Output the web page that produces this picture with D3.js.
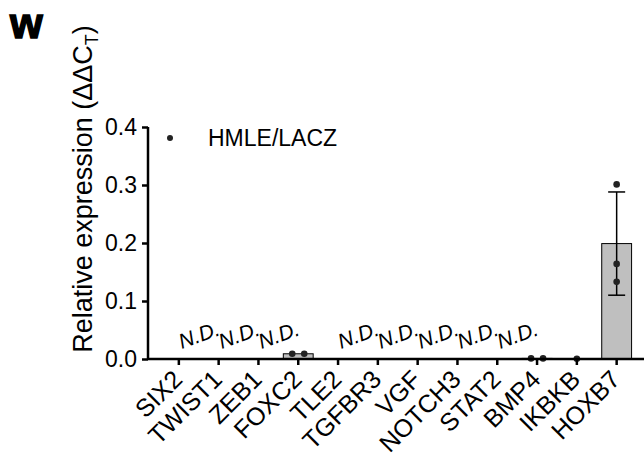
<!DOCTYPE html>
<html lang="en">
<head>
  <meta charset="UTF-8">
  <title>Relative expression</title>
  <script src="https://d3js.org/d3.v7.min.js"></script>
  <style>
    body { margin: 0; background: #fff; }
    text { font-family: "Liberation Sans", Arial, sans-serif; fill: #000; }
  </style>
</head>
<body>
  <svg id="chart" width="644" height="459"></svg>
  <script>
    // genes on the x axis
    const genes = ['SIX2', 'TWIST1', 'ZEB1', 'FOXC2', 'TLE2', 'TGFBR3', 'VGF', 'NOTCH3', 'STAT2', 'BMP4', 'IKBKB', 'HOXB7'];
    // genes that were not detected
    const notDetected = ['SIX2', 'TWIST1', 'ZEB1', 'TLE2', 'TGFBR3', 'VGF', 'NOTCH3', 'STAT2'];
    // bar height (mean) and error (SD) for detected genes
    const meanValues = { FOXC2: 0.009, BMP4: 0.001, IKBKB: 0.0005, HOXB7: 0.199 };
    const sdValues = { HOXB7: 0.089 };
    // individual replicate points
    const replicates = { FOXC2: [0.009, 0.009], BMP4: [0.001, 0.001], IKBKB: [0.0005], HOXB7: [0.301, 0.164, 0.133] };
    const yTicks = [0, 0.1, 0.2, 0.3, 0.4];

    const svg = d3.select('#chart');
    const margins = { top: 127, bottom: 100, left: 148 };
    const y0 = 359;
    const font = '"Liberation Sans", Arial, sans-serif';

    const xScale = d3.scaleBand()
      .domain(genes)
      .range([148, 647.5])
      .paddingInner(0.25)
      .paddingOuter(0.4);

    const yScale = d3.scaleLinear()
      .domain([0, 0.4])
      .range([y0, margins.top]);

    // panel letter
    svg.append('text')
      .attr('x', 10)
      .attr('y', 38)
      .attr('font-size', '42px')
      .attr('font-weight', 'bold')
      .attr('stroke', '#000')
      .attr('stroke-width', 1.5)
      .text('w');

    // y axis
    const leftAxis = d3.axisLeft(yScale)
      .tickValues(yTicks)
      .tickFormat(d3.format('.1f'))
      .tickSize(6)
      .tickPadding(5);
    const yAxisG = svg.append('g')
      .attr('transform', `translate(${margins.left},0)`)
      .call(leftAxis);
    yAxisG.select('.domain').attr('stroke-width', 2.5).attr('d', `M0,${y0}V${margins.top}`);
    yAxisG.selectAll('.tick line').attr('stroke-width', 2.5);
    yAxisG.selectAll('.tick text')
      .attr('font-size', '23px')
      .attr('font-family', font)
      .attr('fill', '#000');

    // y axis title
    const yTitle = svg.append('text')
      .attr('transform', 'translate(92,189) rotate(-90)')
      .attr('text-anchor', 'middle')
      .attr('font-size', '27px');
    yTitle.append('tspan').text('Relative expression (\u0394\u0394C');
    yTitle.append('tspan').attr('font-size', '18px').attr('dy', 6).text('T');
    yTitle.append('tspan').attr('dy', -6).text(')');

    // bars
    const detected = genes.filter(g => meanValues[g] !== undefined);
    svg.selectAll('rect.bar').data(detected)
      .join('rect').attr('class', 'bar')
      .attr('x', d => xScale(d))
      .attr('y', d => yScale(meanValues[d]))
      .attr('width', xScale.bandwidth())
      .attr('height', d => yScale(0) - yScale(meanValues[d]))
      .attr('fill', '#bfbfbf')
      .attr('stroke', '#000')
      .attr('stroke-width', 1);

    // error bars
    const withErr = detected.filter(g => sdValues[g] !== undefined);
    const center = g => xScale(g) + xScale.bandwidth() / 2;
    const errG = svg.selectAll('g.err').data(withErr).join('g').attr('class', 'err');
    errG.append('line')
      .attr('x1', center).attr('x2', center)
      .attr('y1', d => yScale(meanValues[d] + sdValues[d]))
      .attr('y2', d => yScale(meanValues[d] - sdValues[d]))
      .attr('stroke', '#000').attr('stroke-width', 1.5);
    [1, -1].forEach(sign => {
      errG.append('line')
        .attr('x1', d => center(d) - 8.5).attr('x2', d => center(d) + 8.5)
        .attr('y1', d => yScale(meanValues[d] + sign * sdValues[d]))
        .attr('y2', d => yScale(meanValues[d] + sign * sdValues[d]))
        .attr('stroke', '#000').attr('stroke-width', 1.5);
    });

    // replicate dots: spread sideways when values coincide
    const points = [];
    detected.forEach(g => {
      const vals = replicates[g];
      const spread = vals.length > 1 && d3.max(vals) - d3.min(vals) < 0.01;
      vals.forEach((v, i) => {
        const off = spread ? (i - (vals.length - 1) / 2) * 12 : 0;
        points.push({ gene: g, value: v, off: off });
      });
    });
    svg.selectAll('circle.pt').data(points)
      .join('circle').attr('class', 'pt')
      .attr('cx', d => center(d.gene) + d.off)
      .attr('cy', d => yScale(d.value))
      .attr('r', 3.3)
      .attr('fill', '#222');

    // x axis
    const bottomAxis = d3.axisBottom(xScale).tickSize(6).tickSizeOuter(0);
    const xAxisG = svg.append('g')
      .attr('transform', `translate(0,${y0})`)
      .call(bottomAxis);
    xAxisG.select('.domain').attr('stroke-width', 2.5).attr('d', `M${margins.left},0H647.5`);
    xAxisG.selectAll('.tick line').attr('stroke-width', 2.5);
    xAxisG.selectAll('.tick text')
      .attr('font-size', '25px')
      .attr('font-family', font)
      .attr('fill', '#000')
      .attr('text-anchor', 'end')
      .attr('x', 0).attr('y', 0).attr('dy', 0)
      .attr('transform', 'translate(5,22) rotate(-45)');

    // N.D. labels
    svg.selectAll('text.nd').data(notDetected)
      .join('text').attr('class', 'nd')
      .attr('transform', d => `translate(${center(d) + 3},${y0 - 10}) rotate(-20)`)
      .attr('font-size', '21px')
      .attr('font-style', 'italic')
      .text('N.D.');

    // legend
    svg.append('circle')
      .attr('cx', 170).attr('cy', 138).attr('r', 3)
      .attr('fill', '#222');
    svg.append('text')
      .attr('x', 208).attr('y', 146)
      .attr('font-size', '23px')
      .text('HMLE/LACZ');
  </script>
</body>
</html>
